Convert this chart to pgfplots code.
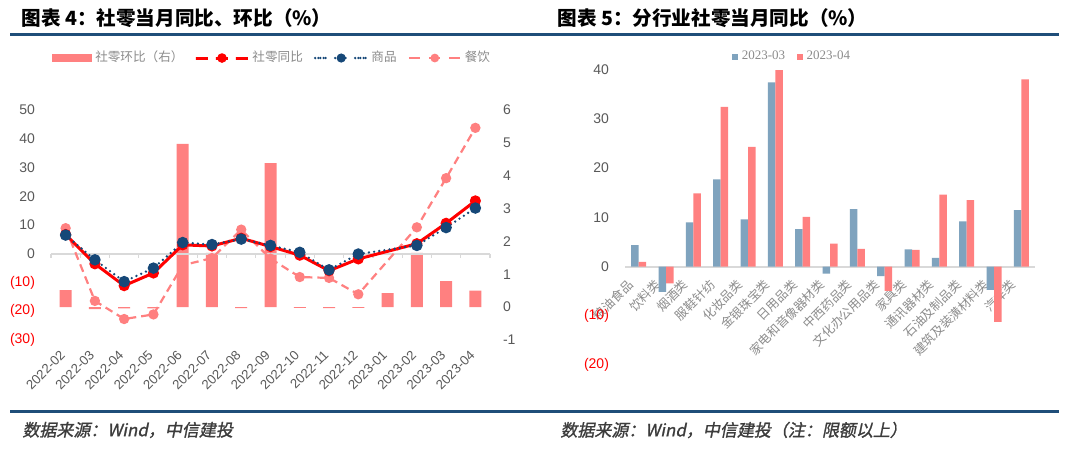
\documentclass[border=0pt]{standalone}
\usepackage{fontspec}
\usepackage{pgfplots}
\pgfplotsset{compat=1.18}
\setmainfont{Liberation Sans}
\newfontfamily\cjk{Noto Sans CJK SC}
\newfontfamily\cjkit[FakeSlant=0.2,FakeBold=1.2]{Noto Sans CJK SC}
\newfontfamily\serif{Liberation Serif}

\definecolor{rule}{RGB}{31,78,121}
\definecolor{barpink}{RGB}{255,128,128}
\definecolor{lred}{RGB}{255,0,0}
\definecolor{navy}{RGB}{22,72,120}
\definecolor{steel}{RGB}{127,163,190}
\definecolor{tickgray}{RGB}{89,89,89}
\definecolor{leggray}{RGB}{140,140,140}
\definecolor{zerogray}{RGB}{217,217,217}
\definecolor{negred}{RGB}{255,0,0}
\definecolor{foot}{RGB}{60,60,60}

\pgfplotsset{
  lineleg/.style={legend image code/.code={\draw[mark repeat=2,mark phase=2,##1] plot coordinates {(0pt,0pt) (10pt,0pt) (20pt,0pt)};}},
}

\begin{document}
\begin{tikzpicture}[x=0.5pt,y=0.5pt]
\path[use as bounding box, fill=white] (0,0) rectangle (1080,451);

% headings and rules
\node[anchor=west, inner sep=0pt, font=\cjk\bfseries\fontsize{9.8}{10}\selectfont] at (21,433) {图表\ 4：社零当月同比、环比（\%）};
\node[anchor=west, inner sep=0pt, font=\cjk\bfseries\fontsize{9.8}{10}\selectfont] at (557,433) {图表\ 5：分行业社零当月同比（\%）};
\draw[rule, line width=1.5pt] (10,416) -- (1059,416);
\draw[rule, line width=1.5pt] (10,40) -- (1059,40);
\node[anchor=west, inner sep=0pt, text=foot, font=\cjkit\fontsize{8.5}{9}\selectfont] at (22,21) {数据来源：Wind，中信建投};
\node[anchor=west, inner sep=0pt, text=foot, font=\cjkit\fontsize{8.5}{9}\selectfont] at (560,21) {数据来源：Wind，中信建投（注：限额以上）};

% ---- chart 4: bars on right axis ----
\begin{axis}[
  at={(25.5pt,55.5pt)}, anchor=south west, scale only axis,
  width=219.5pt, height=115pt,
  xmin=-0.5, xmax=14.5, ymin=-1, ymax=6,
  hide x axis,
  axis y line*=right, y axis line style={draw=none}, major tick length=0pt,
  ytick={-1,0,...,6},
  yticklabel style={font=\fontsize{7}{8}\selectfont, text=tickgray, xshift=3pt},
  /pgf/number format/assume math mode=true,
  ybar, bar width=6pt,
  legend style={at={(0.505,1.226)}, anchor=center, draw=none, fill=none,
    font=\cjk\fontsize{6.3}{7}\selectfont, text=leggray, legend columns=4,
    nodes={inner xsep=1.5pt},
    /tikz/every even column/.append style={column sep=4pt}},
  legend cell align=left,
]
\addplot[fill=barpink, draw=none,
  legend image code/.code={\fill[barpink] (0pt,-2.2pt) rectangle (20pt,2.2pt);}]
  coordinates {(0,0.52) (1,-0.06) (2,-0.04) (3,-0.04) (4,4.97) (5,1.65) (6,-0.03)
    (7,4.38) (8,-0.02) (9,-0.03) (10,-0.02) (11,0.43) (12,1.65) (13,0.79) (14,0.50)};
\addlegendentry{社零环比（右）}
\addlegendimage{lineleg, lred, line width=1.5pt, mark=*, mark size=1.6pt}
\addlegendentry{社零同比}
\addlegendimage{lineleg, navy, line width=1.3pt, line cap=round, dash pattern=on 0pt off 2.6pt, mark=*, mark size=1.6pt, mark options={solid}}
\addlegendentry{商品}
\addlegendimage{lineleg, barpink, line width=1.1pt, dash pattern=on 4pt off 2.5pt, mark=*, mark size=1.6pt, mark options={solid}}
\addlegendentry{餐饮}
\end{axis}

% ---- chart 4: lines on left axis ----
\begin{axis}[
  at={(25.5pt,55.5pt)}, anchor=south west, scale only axis,
  width=219.5pt, height=115pt,
  xmin=-0.5, xmax=14.5, ymin=-30, ymax=50,
  axis x line*=bottom, axis y line*=left,
  axis line style={draw=none}, major tick length=0pt,
  ytick={-30,-20,...,50},
  yticklabels={{\color{negred}(30)},{\color{negred}(20)},{\color{negred}(10)},0,10,20,30,40,50},
  yticklabel style={font=\fontsize{7}{8}\selectfont, text=tickgray, xshift=-4.5pt},
  xtick={0,...,14},
  xticklabels={2022-02,2022-03,2022-04,2022-05,2022-06,2022-07,2022-08,2022-09,2022-10,2022-11,2022-12,2023-01,2023-02,2023-03,2023-04},
  xticklabel style={font=\fontsize{6.6}{7}\selectfont, text=tickgray, yshift=-4pt, xshift=1pt, rotate=45, anchor=east},
  clip=false,
]
\draw[zerogray, line width=0.8pt] (axis cs:-0.5,0) -- (axis cs:14.5,0);
\pgfplotsinvokeforeach{-0.5,0.5,...,14.5}{\draw[zerogray, line width=0.6pt] (axis cs:#1,0) -- ++(0pt,-2pt);}
\addplot[barpink, line width=1.1pt, dash pattern=on 4pt off 2.5pt, mark=*, mark size=2pt, mark options={solid}]
  coordinates {(0,8.9) (1,-16.4) (2,-22.7) (3,-21.1) (4,-4.0) (5,-1.5) (6,8.4) (7,-1.7)
    (8,-8.1) (9,-8.4) (10,-14.1) (12,9.2) (13,26.3) (14,43.8)};
\addplot[lred, line width=1.5pt, mark=*, mark size=2pt]
  coordinates {(0,6.7) (1,-3.5) (2,-11.1) (3,-6.7) (4,3.1) (5,2.7) (6,5.4) (7,2.5)
    (8,-0.5) (9,-5.9) (10,-1.8) (12,3.5) (13,10.6) (14,18.4)};
\addplot[navy, line width=1.3pt, line cap=round, dash pattern=on 0pt off 2.6pt, mark=*, mark size=2.2pt, mark options={solid}]
  coordinates {(0,6.5) (1,-2.1) (2,-9.7) (3,-5.0) (4,3.9) (5,3.2) (6,5.1) (7,2.9)
    (8,0.5) (9,-5.6) (10,-0.1) (12,2.9) (13,9.1) (14,15.9)};
\end{axis}

% ---- chart 5 ----
\begin{axis}[
  at={(312.5pt,42.85pt)}, anchor=south west, scale only axis,
  width=205pt, height=147.9pt,
  xmin=-0.5, xmax=14.5, ymin=-20, ymax=40,
  axis x line*=middle, axis y line*=left,
  x axis line style={zerogray, line width=0.8pt, -},
  y axis line style={draw=none}, major tick length=0pt,
  ytick={-20,-10,...,40},
  yticklabels={{\color{negred}(20)},{\color{negred}(10)},0,10,20,30,40},
  yticklabel style={font=\fontsize{7}{8}\selectfont, text=tickgray, xshift=-4.5pt},
  xtick={0,...,14},
  xticklabels={粮油食品,饮料类,烟酒类,服鞋针纺,化妆品类,金银珠宝类,日用品类,家电和音像器材类,中西药品类,文化办公用品类,家具类,通讯器材类,石油及制品类,建筑及装潢材料类,汽车类},
  xticklabel style={font=\cjk\fontsize{6.2}{7}\selectfont, text=leggray, yshift=-5.5pt, xshift=-1.5pt, rotate=45, anchor=east},
  ybar=0pt, bar width=3.75pt,
  legend style={at={(0.41,1.042)}, anchor=center, draw=none, fill=none,
    font=\serif\fontsize{6.5}{7}\selectfont, text=leggray, legend columns=2,
    /tikz/every even column/.append style={column sep=4pt}},
  legend image code/.code={\fill[#1] (0pt,-1.4pt) rectangle (2.8pt,1.4pt);},
  clip=false,
]
\addplot[fill=steel, draw=none]
  coordinates {(0,4.4) (1,-5.1) (2,9.0) (3,17.7) (4,9.6) (5,37.4) (6,7.6) (7,-1.4)
    (8,11.7) (9,-1.9) (10,3.5) (11,1.8) (12,9.2) (13,-4.7) (14,11.5)};
\addlegendentry{2023-03}
\addplot[fill=barpink, draw=none]
  coordinates {(0,1.0) (1,-3.4) (2,14.9) (3,32.4) (4,24.3) (5,39.9) (6,10.1) (7,4.7)
    (8,3.6) (9,-4.9) (10,3.4) (11,14.6) (12,13.5) (13,-11.2) (14,38.0)};
\addlegendentry{2023-04}
\end{axis}
\end{tikzpicture}
\end{document}
